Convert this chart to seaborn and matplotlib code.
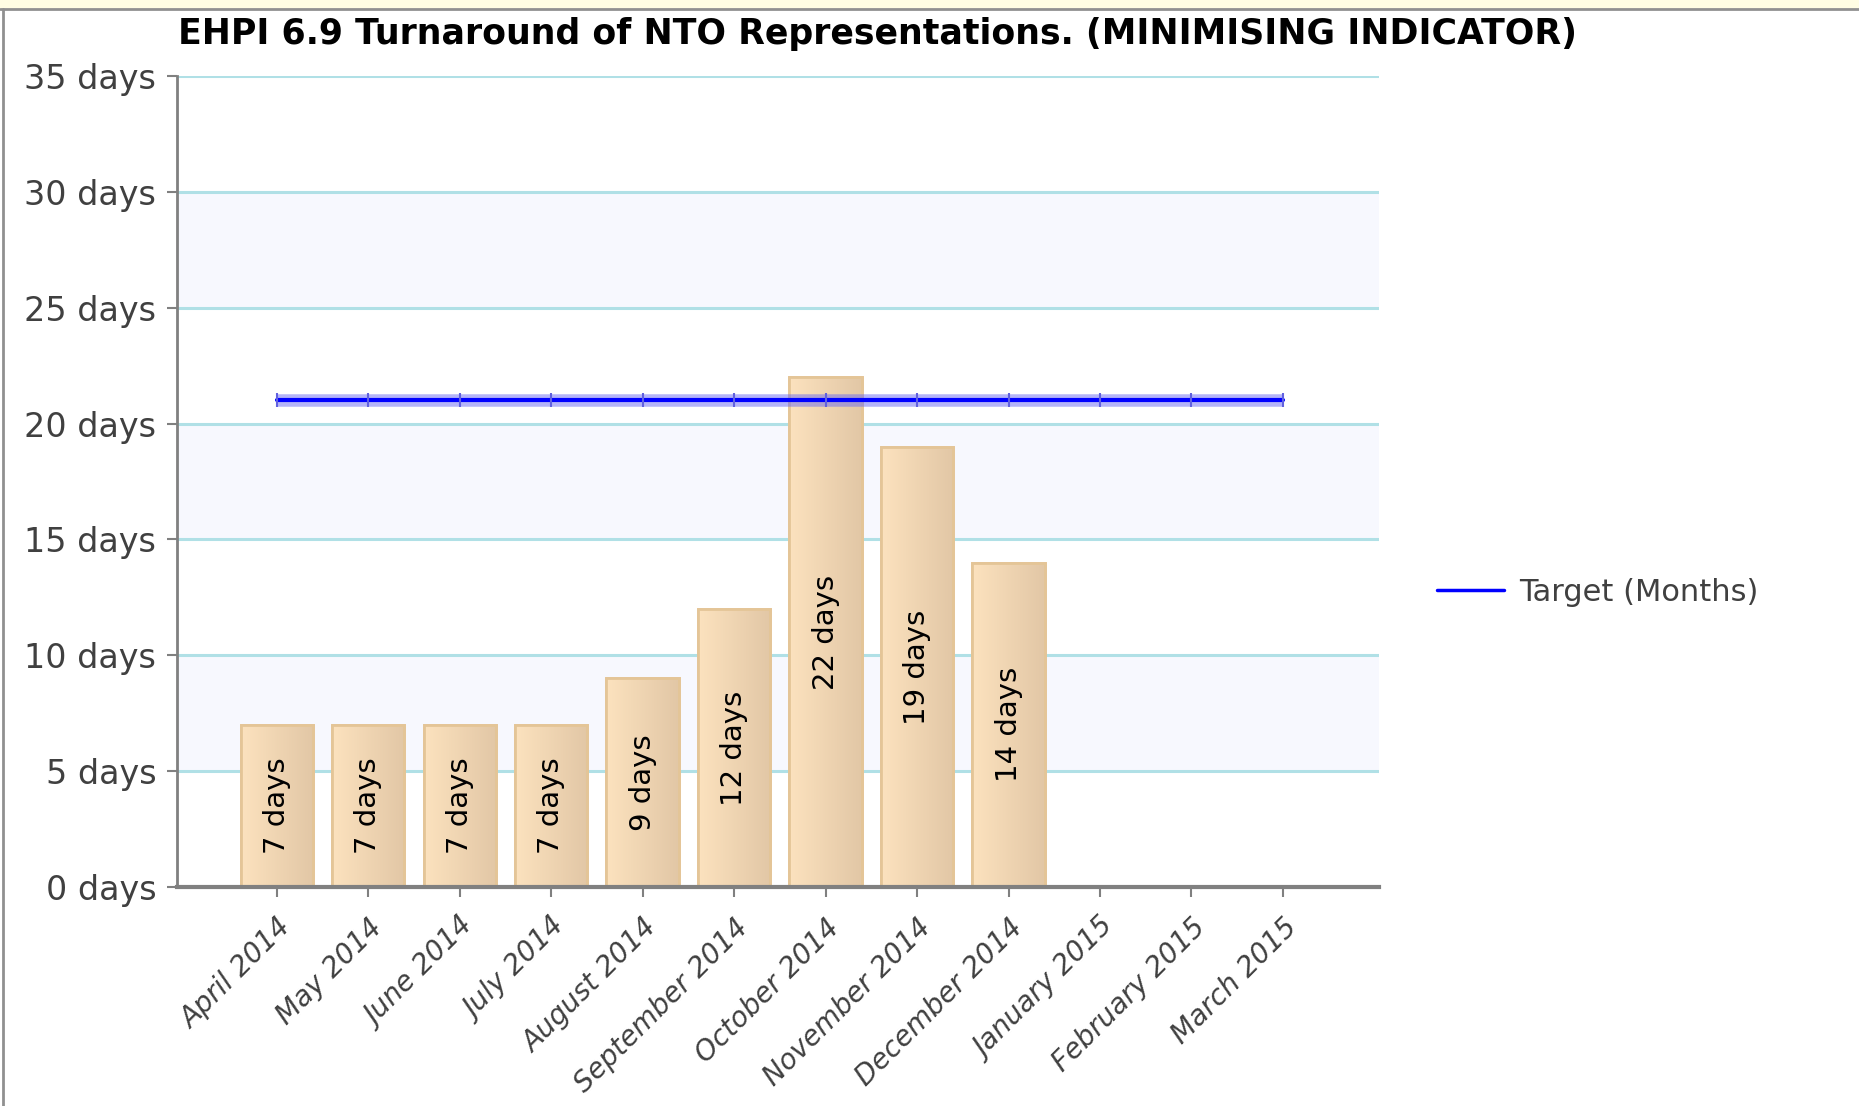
import numpy as np
import pandas as pd
import matplotlib
matplotlib.use('Agg')
import matplotlib.pyplot as plt
import seaborn as sns
from matplotlib.colors import LinearSegmentedColormap

months = ['April 2014', 'May 2014', 'June 2014', 'July 2014', 'August 2014',
          'September 2014', 'October 2014', 'November 2014', 'December 2014',
          'January 2015', 'February 2015', 'March 2015']
days = [7, 7, 7, 7, 9, 12, 22, 19, 14]
target = [21] * 12
y_ticks = [0, 5, 10, 15, 20, 25, 30, 35]

sns.set_style('white')
plt.rcParams['font.family'] = ['DejaVu Sans']

df = pd.DataFrame({'month': months[:len(days)], 'days': days})
df_target = pd.DataFrame({'month': months, 'target': target})

fig = plt.figure(figsize=(18.59, 11.06), dpi=100)
ax = fig.add_axes([0.0952, 0.198, 0.6466, 0.7333])

# alternating bands
for lo in [5, 15, 25]:
    ax.axhspan(lo, lo + 5, color='#F7F8FE', zorder=0)
for v in y_ticks:
    ax.axhline(v, color='#B0E0E6', lw=2.2, zorder=1)

sns.barplot(data=df, x='month', y='days', order=months, ax=ax, width=0.79,
            color='#F5DCBA', edgecolor='#E4C597', linewidth=2, zorder=2)

cmap = LinearSegmentedColormap.from_list('peach', ['#FCE2BE', '#E2C7A6'])
grad = np.linspace(0, 1, 64).reshape(1, -1)
for p in ax.containers[0]:
    x0, y0 = p.get_x(), p.get_y()
    w, h = p.get_width(), p.get_height()
    if np.isnan(h) or h == 0:
        continue
    im = ax.imshow(grad, extent=[x0, x0 + w, y0, y0 + h], aspect='auto',
                   cmap=cmap, zorder=2.1)
    im.set_clip_path(p)
    # redraw edge on top of gradient
    ax.add_patch(plt.Rectangle((x0, y0), w, h, fill=False, edgecolor='#E4C597',
                               lw=2, zorder=2.2))
    ax.text(x0 + w / 2, y0 + h / 2, f'{int(h)} days', rotation=90,
            ha='center', va='center', fontsize=21, color='black', zorder=3)

# target line with halo
x_idx = np.arange(len(months))
ax.plot(x_idx, df_target['target'], color='#6A6AF2', alpha=0.5, lw=9,
        solid_capstyle='butt', zorder=3.5)
sns.lineplot(x=x_idx, y=df_target['target'], ax=ax, color='#0000FF', lw=3,
             marker='|', markersize=10, markeredgecolor='#6060E0',
             markeredgewidth=1.5, label='Target (Months)', zorder=4)

ax.set_xlim(-1.09, 12.05)
ax.set_ylim(0, 35)
ax.set_yticks(y_ticks)
ax.set_yticklabels([f'{v} days' for v in y_ticks], fontsize=24, color='#404040')
ax.set_xticks(x_idx)
ax.set_xticklabels(months, rotation=45, ha='right', rotation_mode='anchor',
                   fontsize=20, color='#404040', style='italic')
ax.set_xlabel('')
ax.set_ylabel('')
ax.tick_params(axis='y', direction='out', length=7, width=1.5,
               color='#808080', left=True, pad=8)
ax.tick_params(axis='x', direction='out', length=7, width=1.5,
               color='#808080', bottom=True, pad=12)

for s in ['top', 'right']:
    ax.spines[s].set_visible(False)
ax.spines['left'].set_color('#808080')
ax.spines['left'].set_linewidth(2)
ax.spines['bottom'].set_color('#808080')
ax.spines['bottom'].set_linewidth(3)
ax.spines['left'].set_zorder(5)
ax.spines['bottom'].set_zorder(5)

leg = ax.legend(loc='center left', bbox_to_anchor=(1.025, 0.363), frameon=False,
                fontsize=22, handlelength=2.2, handletextpad=0.5)
for t in leg.get_texts():
    t.set_color('#404040')
for h in leg.legend_handles:
    h.set_marker('')
    h.set_linewidth(2.5)

fig.text(0.0958, 0.969, 'EHPI 6.9 Turnaround of NTO Representations. (MINIMISING INDICATOR)',
         fontsize=25, fontweight='bold', color='black', va='center', ha='left')

# window frame: yellow strip at top and grey borders
fig.patches.append(plt.Rectangle((0, 0.992), 1, 0.008, transform=fig.transFigure,
                                 facecolor='#FFFDE3', edgecolor='none'))
fig.lines.append(plt.Line2D([0, 1], [0.992, 0.992], transform=fig.transFigure,
                            color='#909090', lw=2))
fig.lines.append(plt.Line2D([0.0015, 0.0015], [0, 0.992], transform=fig.transFigure,
                            color='#909090', lw=2))

fig.savefig('out.png', dpi=100)
